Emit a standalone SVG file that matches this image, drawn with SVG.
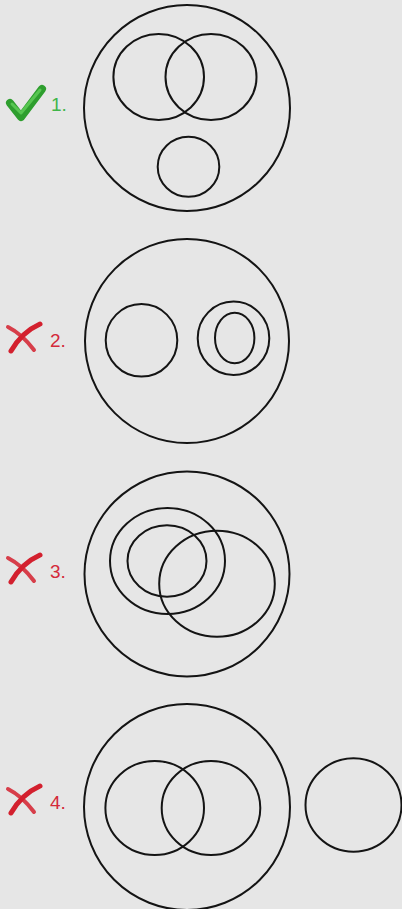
<svg xmlns="http://www.w3.org/2000/svg" width="402" height="909" viewBox="0 0 402 909">
<style>
.c{fill:none;stroke:#141414;stroke-width:2}
.lbl{font-family:"Liberation Sans",Arial,sans-serif;font-size:19px}
.ok{fill:#3fb54a}
.no{fill:#d42a3a}
.x{fill:none;stroke:#d3202e;stroke-linecap:round}
</style>
<rect width="402" height="909" fill="#e6e6e6"/>
<g id="connectors"/>
<g id="option1">
  <path d="M10 103 L21 117 L42 89" fill="none" stroke="#2e9e2e" stroke-width="8" stroke-linecap="round" stroke-linejoin="round"/>
  <path d="M12 104 L21 113 L40 90" fill="none" stroke="#62d05a" stroke-width="3" stroke-linecap="round" stroke-linejoin="round" opacity="0.8"/>
  <text class="lbl ok" x="51" y="111">1.</text>
  <circle class="c" cx="187" cy="108" r="103"/>
  <ellipse class="c" cx="158.7" cy="77" rx="45.3" ry="43"/>
  <ellipse class="c" cx="211" cy="77" rx="45.5" ry="43"/>
  <ellipse class="c" cx="188.5" cy="166.7" rx="30.8" ry="30"/>
</g>
<g id="option2">
  <path d="M40 324 Q22 332 11 351" class="x" stroke-width="5"/>
  <path d="M8 327 Q22 334 34 350" class="x" stroke-width="4" opacity="0.85"/>
  <text class="lbl no" x="50" y="347">2.</text>
  <circle class="c" cx="187" cy="341" r="102"/>
  <ellipse class="c" cx="141.5" cy="340.3" rx="35.8" ry="36.3"/>
  <ellipse class="c" cx="233.5" cy="338.3" rx="35.8" ry="36.7"/>
  <ellipse class="c" cx="234.7" cy="338" rx="19.7" ry="25.3"/>
</g>
<g id="option3">
  <path d="M40 555 Q22 563 11 582" class="x" stroke-width="5"/>
  <path d="M8 558 Q22 565 34 581" class="x" stroke-width="4" opacity="0.85"/>
  <text class="lbl no" x="50" y="578">3.</text>
  <circle class="c" cx="187" cy="574" r="102.5"/>
  <ellipse class="c" cx="167.5" cy="561" rx="57.5" ry="53"/>
  <ellipse class="c" cx="167" cy="561" rx="39.5" ry="35.7"/>
  <ellipse class="c" cx="217" cy="583.7" rx="57.8" ry="53"/>
</g>
<g id="option4">
  <path d="M40 786 Q22 794 11 813" class="x" stroke-width="5"/>
  <path d="M8 789 Q22 796 34 812" class="x" stroke-width="4" opacity="0.85"/>
  <text class="lbl no" x="50" y="809">4.</text>
  <circle class="c" cx="187" cy="807" r="103"/>
  <ellipse class="c" cx="154.7" cy="808" rx="49.3" ry="47"/>
  <ellipse class="c" cx="211" cy="808" rx="49.3" ry="47"/>
  <ellipse class="c" cx="353.5" cy="805" rx="48" ry="46.7"/>
</g>
</svg>
